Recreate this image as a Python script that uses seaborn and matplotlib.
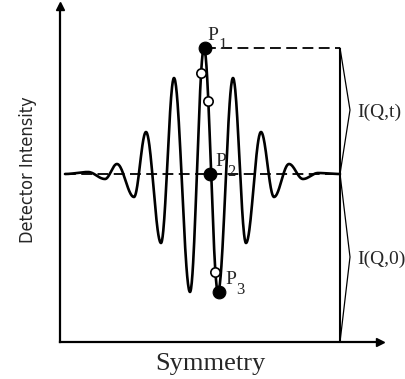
import numpy as np
import pandas as pd
import matplotlib
matplotlib.use("Agg")
import matplotlib.pyplot as plt
import seaborn as sns

# ---- data (x: symmetry units, y: intensity rel. to baseline) ----
curve_x = [5, 28, 45, 57, 74, 86, 101, 114, 130, 144, 158, 173, 186, 201, 214, 229, 243, 258, 280]
curve_y = [0, 2, -5, 10, -23, 42, -69, 96, -118, 126, -118, 96, -69, 42, -23, 10, -5, 1, 0]

point_x = [144.5, 150.0, 158.5]
point_y = [126, 0, -118]
point_names = ["1", "2", "3"]

open_x = [141, 148, 155]
open_y = [101, 73, -98]

ref_x = 280                      # vertical reference line position
bracket_tip = [64, -83]          # y of bracket tips
bracket_labels = ["I(Q,t)", "I(Q,0)"]
x_label = "Symmetry"
y_label = "Detector Intensity"
x_lim = (0, 320)
y_lim = (-168, 168)


def smooth_between_extrema(xe, ye, n=40):
    """Render a smooth wave through successive extrema (half-cosine segments)."""
    xs, ys = [], []
    for i in range(len(xe) - 1):
        t = np.linspace(0, 1, n, endpoint=False)
        s = (1 - np.cos(np.pi * t)) / 2
        xs.append(xe[i] + (xe[i + 1] - xe[i]) * t)
        ys.append(ye[i] + (ye[i + 1] - ye[i]) * s)
    xs.append([xe[-1]])
    ys.append([ye[-1]])
    return np.concatenate(xs), np.concatenate(ys)


sns.set_theme(style="white")
plt.rcParams["font.family"] = ["Liberation Serif", "DejaVu Serif"]

fig = plt.figure(figsize=(4.06, 3.79), dpi=100)
ax = fig.add_axes([60 / 406, 37 / 379, 320 / 406, 336 / 379])
ax.set_xlim(*x_lim)
ax.set_ylim(*y_lim)

# wave
wx, wy = smooth_between_extrema(curve_x, curve_y)
df = pd.DataFrame({"x": wx, "y": wy})
sns.lineplot(data=df, x="x", y="y", sort=False, estimator=None, color="black",
             lw=1.9, ax=ax)

# dashed baseline and dashed level of P1
ax.plot([curve_x[0], curve_x[-1]], [0, 0], color="black", lw=1.3, dashes=(6, 3))
ax.plot([point_x[0], ref_x], [point_y[0], point_y[0]], color="black", lw=1.3, dashes=(6, 3))

# vertical reference line
ax.plot([ref_x, ref_x], [y_lim[0], point_y[0]], color="black", lw=1.5, solid_capstyle="butt")

# brackets
ax.plot([ref_x, ref_x + 10, ref_x], [point_y[0], bracket_tip[0], 0], color="black", lw=0.9)
ax.plot([ref_x, ref_x + 10, ref_x], [0, bracket_tip[1], y_lim[0]], color="black", lw=0.9)
for yt, lab in zip(bracket_tip, bracket_labels):
    ax.text(ref_x + 17, yt - 2, lab, ha="left", va="center", fontsize=14,
            family=["Liberation Serif"], clip_on=False)

# markers
sns.scatterplot(x=open_x, y=open_y, s=45, color="white", edgecolor="black",
                linewidth=1.2, ax=ax, zorder=5)
sns.scatterplot(x=point_x, y=point_y, s=85, color="black", edgecolor="black",
                ax=ax, zorder=6)

# P labels
p_offsets = [(8, 13), (11, 12), (12, 12)]
for px, py, name, (dx, dy) in zip(point_x, point_y, point_names, p_offsets):
    ax.text(px + dx, py + dy, "P", ha="center", va="center", fontsize=14,
            family=["Liberation Serif"])
    ax.text(px + dx + 10, py + dy - 10, name, ha="center", va="center", fontsize=12,
            family=["Liberation Serif"])

# axes styling with arrows
for side in ["top", "right"]:
    ax.spines[side].set_visible(False)
for side in ["left", "bottom"]:
    ax.spines[side].set_color("black")
    ax.spines[side].set_linewidth(1.6)
ax.set_xticks([])
ax.set_yticks([])
ax.plot(1, 0, ">", color="black", markersize=6, transform=ax.transAxes, clip_on=False)
ax.plot(0, 1, "^", color="black", markersize=6, transform=ax.transAxes, clip_on=False)

ax.set_xlabel(x_label, fontsize=19, family=["Liberation Serif"])
ax.xaxis.set_label_coords(150 / 320, -0.033)
ax.xaxis.label.set_va("top")
ax.set_ylabel(y_label, fontsize=13, family=["DejaVu Sans"], fontstretch="condensed",
              fontweight="medium")
ax.yaxis.set_label_coords(-32 / 320, (342 - 170) / 336)
ax.yaxis.label.set_va("center")

fig.savefig("out.png", dpi=100)
